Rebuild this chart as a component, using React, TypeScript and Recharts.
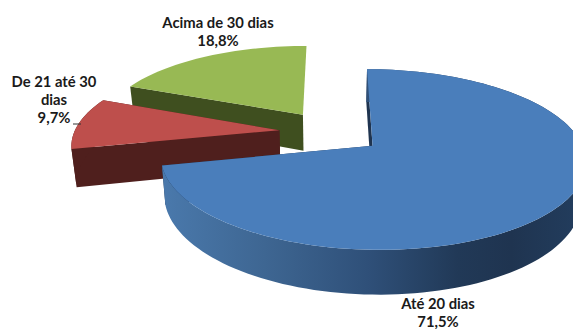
import React from "react";
import { PieChart, Pie, Cell } from "recharts";

// Slices run counter-clockwise from the top, so the painter's order leaves the largest slice in front.
const categories = ["Acima de 30 dias", "De 21 até 30 dias", "Até 20 dias"];
const shares = [18.8, 9.7, 71.5];
const shareLabels = ["18,8%", "9,7%", "71,5%"];
const topColors = ["#98b954", "#be4f4c", "#4a7ebb"];
const wallColors = ["#3f4f1f", "#4f1f1d", "url(#blueWall)"];
const labelLines = [["Acima de 30 dias"], ["De 21 até 30", "dias"], ["Até 20 dias"]];
const labelCentres = [
  { x: 218, y: 28 },
  { x: 54, y: 87 },
  { x: 438, y: 309 },
];

const rows = categories.map((name, i) => ({ name, value: shares[i] }));

// Perspective used for the tilted pie.
const TILT = 0.41;
const VANISH = 0.15;
const EXPLODE = 52;
const DEPTH = 37;
const BOTTOM_SCALE = 0.98;
const RAD = Math.PI / 180;

type Pt = [number, number];

function project(cx: number, cy: number, r: number, X: number, Y: number, lower: boolean): Pt {
  const k = 1 / (1 + (VANISH * Y) / r);
  const sx = lower ? BOTTOM_SCALE : 1;
  return [cx + X * k * sx, cy - TILT * Y * k + (lower ? DEPTH * k : 0)];
}

function toPath(points: Pt[]) {
  return points.map((p, i) => `${i ? "L" : "M"}${p[0].toFixed(2)} ${p[1].toFixed(2)}`).join(" ") + " Z";
}

function TiltedSlice(props: any) {
  const { cx, cy, outerRadius: r, startAngle, endAngle, midAngle, fill, index } = props;
  const ox = EXPLODE * Math.cos(midAngle * RAD);
  const oy = EXPLODE * Math.sin(midAngle * RAD);
  const rim = (deg: number, lower: boolean) =>
    project(cx, cy, r, ox + r * Math.cos(deg * RAD), oy + r * Math.sin(deg * RAD), lower);
  const steps = Math.max(12, Math.ceil(Math.abs(endAngle - startAngle) / 2));
  const angles = Array.from({ length: steps + 1 }, (_, i) => startAngle + ((endAngle - startAngle) * i) / steps);

  const apexTop = project(cx, cy, r, ox, oy, false);
  const apexLow = project(cx, cy, r, ox, oy, true);
  const arcTop = angles.map((a) => rim(a, false));
  const arcLow = angles.map((a) => rim(a, true));
  const wall = wallColors[index];
  // The green slice's inner wall and rim face away from the viewer, so they are left out.
  const backFacing = index === 0;

  return (
    <g>
      <defs>
        <linearGradient id="blueWall" gradientUnits="userSpaceOnUse" x1="162" y1="0" x2="573" y2="0">
          <stop offset="0" stopColor="#4a79ac" />
          <stop offset="0.25" stopColor="#3e6692" />
          <stop offset="0.5" stopColor="#2f5079" />
          <stop offset="0.72" stopColor="#213957" />
          <stop offset="0.85" stopColor="#1f3450" />
          <stop offset="1" stopColor="#223c5c" />
        </linearGradient>
      </defs>
      {!backFacing && (
        <path d={toPath([apexTop, arcTop[0], arcLow[0], apexLow])} fill={index === 2 ? "#1f3450" : wall} />
      )}
      <path d={toPath([apexTop, arcTop[steps], arcLow[steps], apexLow])} fill={index === 2 ? "#1f3450" : wall} />
      {!backFacing && <path d={toPath([...arcTop, ...arcLow.slice().reverse()])} fill={wall} />}
      <path d={toPath([apexTop, ...arcTop])} fill={fill} />
    </g>
  );
}

function SliceLabel(props: any) {
  const { index } = props;
  const lines = [...labelLines[index], shareLabels[index]];
  const { x, y } = labelCentres[index];
  return (
    <g>
      <text
        textAnchor="middle"
        fontFamily="Lato, 'Open Sans', sans-serif"
        fontWeight={700}
        fontSize={14.8}
        fill="#1a1a1a"
      >
        {lines.map((line, i) => (
          <tspan key={line} x={x} y={y + i * 18}>
            {line}
          </tspan>
        ))}
      </text>
      {index === 1 && <line x1={73} y1={124} x2={81} y2={124} stroke="#333333" strokeWidth={1} />}
    </g>
  );
}

export default function App() {
  return (
    <div style={{ position: "absolute", left: 0, top: 0 }}>
      <PieChart width={573} height={329} margin={{ top: 0, right: 0, bottom: 0, left: 0 }}>
        <Pie
          data={rows}
          dataKey="value"
          nameKey="name"
          cx={331}
          cy={132}
          innerRadius={0}
          outerRadius={205}
          startAngle={90}
          endAngle={450}
          stroke="none"
          isAnimationActive={false}
          shape={TiltedSlice}
          label={SliceLabel}
          labelLine={false}
        >
          {rows.map((row, i) => (
            <Cell key={row.name} fill={topColors[i]} />
          ))}
        </Pie>
      </PieChart>
    </div>
  );
}
